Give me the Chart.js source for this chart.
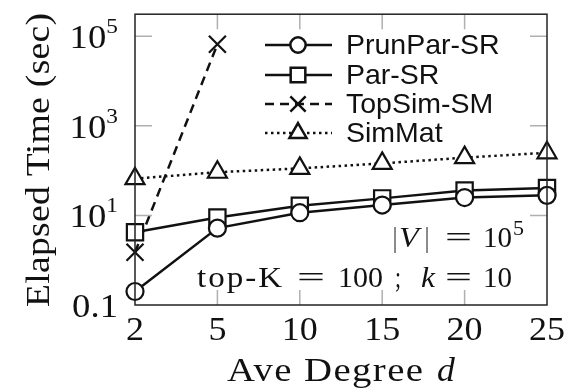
<!DOCTYPE html>
<html>
<head>
<meta charset="utf-8">
<script src="https://cdn.jsdelivr.net/npm/chart.js@4.4.1/dist/chart.umd.min.js"></script>
<style>
html, body { margin: 0; padding: 0; background: #fff; }
</style>
</head>
<body>
<canvas id="chart" width="573" height="391"></canvas>
<script>
// values (log y axis)
const degrees = ['2', '5', '10', '15', '20', '25'];
const prunParSR = [0.2, 5.2, 11.5, 17, 25, 28];
const parSR = [4.2, 9, 16.5, 24, 36, 41];
const topSimSM = [1.5, 66000, null, null, null, null];
const simMat = [66, 92, 112, 145, 195, 250];
const yTicks = [0.1, 10, 1000, 100000];
const yTickBase = ['0.1', '10', '10', '10'];
const yTickExp = ['', '1', '3', '5'];

const serif = '"Liberation Serif", "DejaVu Serif", serif';
const sans = '"Liberation Sans", "DejaVu Sans", sans-serif';
const ink = '#111';

const series = [
  { label: 'PrunPar-SR', data: prunParSR, style: 'circle', r: 8.5, dash: [] },
  { label: 'Par-SR', data: parSR, style: 'rect', r: 11.5, dash: [] },
  { label: 'TopSim-SM', data: topSimSM, style: 'crossRot', r: 12, dash: [9, 6] },
  { label: 'SimMat', data: simMat, style: 'triangle', r: 11, dash: [2.5, 3.5] },
];

// same shapes as chart.js point styles, for the legend
function marker(ctx, style, x, y, r) {
  ctx.beginPath();
  if (style === 'circle') {
    ctx.arc(x, y, r, 0, Math.PI * 2);
  } else if (style === 'rect') {
    const s = Math.SQRT1_2 * r;
    ctx.rect(x - s, y - s, 2 * s, 2 * s);
  } else if (style === 'triangle') {
    let a = -Math.PI / 2;
    ctx.moveTo(x + Math.cos(a) * r, y + Math.sin(a) * r);
    a += Math.PI * 2 / 3;
    ctx.lineTo(x + Math.cos(a) * r, y + Math.sin(a) * r);
    a += Math.PI * 2 / 3;
    ctx.lineTo(x + Math.cos(a) * r, y + Math.sin(a) * r);
    ctx.closePath();
  } else if (style === 'crossRot') {
    const o = Math.SQRT1_2 * r;
    ctx.moveTo(x - o, y - o); ctx.lineTo(x + o, y + o);
    ctx.moveTo(x - o, y + o); ctx.lineTo(x + o, y - o);
  }
  if (style !== 'crossRot') ctx.fill();
  ctx.stroke();
}

// latex fonts run wider than times: widen with some stretch + a little letter spacing
function fit(ctx, txt, font, x0, x1, y) {
  ctx.font = font;
  const hasLs = 'letterSpacing' in ctx;
  if (hasLs) ctx.letterSpacing = '0px';
  const w = ctx.measureText(txt).width;
  const target = x1 - x0;
  let sx = Math.min(1.14, target / w);
  let ls = 0;
  if (hasLs && txt.length > 1) {
    ls = Math.max(0, (target / sx - w) / (txt.length - 1));
  } else {
    sx = target / w;
  }
  ctx.save();
  ctx.translate(x0, y);
  ctx.scale(sx, 1);
  if (hasLs) ctx.letterSpacing = ls.toFixed(2) + 'px';
  ctx.fillText(txt, 0, 0);
  ctx.restore();
  if (hasLs) ctx.letterSpacing = '0px';
}

function stretched(ctx, txt, font, x, y, sx, align) {
  ctx.font = font;
  const w = ctx.measureText(txt).width * sx;
  const x0 = align === 'right' ? x - w : align === 'center' ? x - w / 2 : x;
  ctx.save();
  ctx.translate(x0, y);
  ctx.scale(sx, 1);
  ctx.fillText(txt, 0, 0);
  ctx.restore();
  return w;
}

const decorations = {
  id: 'decorations',
  afterDraw(chart) {
    const ctx = chart.ctx;
    const a = chart.chartArea;
    const xs = chart.scales.x;
    const ys = chart.scales.y;
    ctx.save();

    // inner tick marks
    ctx.strokeStyle = '#b0b0b0';
    ctx.lineWidth = 1.5;
    ctx.setLineDash([]);
    for (let i = 1; i < degrees.length - 1; i++) {
      const px = xs.getPixelForValue(i);
      ctx.beginPath();
      ctx.moveTo(px, a.bottom); ctx.lineTo(px, a.bottom - 15);
      ctx.moveTo(px, a.top); ctx.lineTo(px, a.top + 15);
      ctx.stroke();
    }
    for (let i = 1; i < yTicks.length; i++) {
      const py = ys.getPixelForValue(yTicks[i]);
      ctx.beginPath();
      ctx.moveTo(a.left, py); ctx.lineTo(a.left + 17, py);
      ctx.moveTo(a.right, py); ctx.lineTo(a.right - 17, py);
      ctx.stroke();
    }

    // frame
    ctx.strokeStyle = '#222';
    ctx.lineWidth = 1.5;
    ctx.strokeRect(a.left, a.top, a.right - a.left, a.bottom - a.top);

    ctx.fillStyle = ink;
    ctx.textBaseline = 'alphabetic';
    ctx.textAlign = 'left';

    // x tick labels
    degrees.forEach((d, i) => {
      stretched(ctx, d, '34px ' + serif, xs.getPixelForValue(i), 340, 1.06, 'center');
    });

    // y tick labels with exponents
    for (let i = 0; i < yTicks.length; i++) {
      const py = ys.getPixelForValue(yTicks[i]);
      let right = 118;
      if (yTickExp[i]) {
        right -= stretched(ctx, yTickExp[i], '22px ' + serif, right, py - 3, 1.06, 'right');
      }
      stretched(ctx, yTickBase[i], '34px ' + serif, right, py + 12, 1.08, 'right');
    }

    // y title, rotated
    ctx.save();
    ctx.translate(49, 307);
    ctx.rotate(-Math.PI / 2);
    fit(ctx, 'Elapsed Time (sec)', '33px ' + serif, 0, 294, 0);
    ctx.restore();

    // x title
    fit(ctx, 'Ave Degree', '34px ' + serif, 227, 423, 381);
    stretched(ctx, 'd', 'italic 34px ' + serif, 437, 381, 1.05, 'left');

    // notes inside the plot
    const nf = '29px ' + serif;
    const ni = 'italic 30px ' + serif;
    fit(ctx, '|', nf, 393, 397, 247);
    stretched(ctx, 'V', ni, 399, 247, 1.08, 'left');
    fit(ctx, '|', nf, 425, 429, 247);
    fit(ctx, '=', nf, 445, 472, 247);
    fit(ctx, '10', nf, 483, 512, 247);
    fit(ctx, '5', '20px ' + serif, 513, 524, 235);

    fit(ctx, 'top-K', nf, 197, 282, 287);
    fit(ctx, '=', nf, 297, 325, 287);
    fit(ctx, '100', nf, 338, 383, 287);
    fit(ctx, ';', nf, 395, 401, 287);
    stretched(ctx, 'k', ni, 421, 287, 1.05, 'left');
    fit(ctx, '=', nf, 445, 472, 287);
    fit(ctx, '10', nf, 483, 512, 287);

    // legend
    ctx.textBaseline = 'middle';
    const rowY = [45, 75, 104, 133];
    series.forEach((s, i) => {
      const y = rowY[i];
      ctx.strokeStyle = ink;
      ctx.lineWidth = 2.5;
      ctx.setLineDash(s.dash);
      ctx.beginPath();
      ctx.moveTo(265, y); ctx.lineTo(332, y);
      ctx.stroke();
      ctx.setLineDash([]);
      ctx.fillStyle = '#fff';
      marker(ctx, s.style, 298, y, s.r * 0.9);
      ctx.fillStyle = ink;
      ctx.font = '28.5px ' + sans;
      ctx.fillText(s.label, 346, y + 1);
    });

    ctx.restore();
  }
};

new Chart(document.getElementById('chart'), {
  type: 'line',
  data: {
    labels: degrees,
    datasets: series.map((s) => ({
      label: s.label,
      data: s.data,
      borderColor: ink,
      borderWidth: 2.5,
      borderDash: s.dash,
      pointStyle: s.style,
      pointRadius: s.r,
      pointBorderWidth: 2.2,
      pointBorderColor: ink,
      pointBackgroundColor: '#fff',
      tension: 0,
      fill: false,
      clip: false,
    })),
  },
  options: {
    responsive: false,
    animation: false,
    layout: { padding: { top: 11, right: 26, left: 0, bottom: 0 } },
    plugins: { legend: { display: false }, tooltip: { enabled: false } },
    scales: {
      x: {
        type: 'category',
        offset: false,
        grid: { display: false },
        border: { display: false },
        ticks: { display: false, autoSkip: false },
        afterFit(scale) { scale.height = 86; },
      },
      y: {
        type: 'logarithmic',
        min: 0.1,
        max: 310000,
        grid: { display: false },
        border: { display: false },
        ticks: { display: false },
        afterBuildTicks(scale) { scale.ticks = yTicks.map((v) => ({ value: v })); },
        afterFit(scale) { scale.width = 135; },
      },
    },
  },
  plugins: [decorations],
});
</script>
</body>
</html>
